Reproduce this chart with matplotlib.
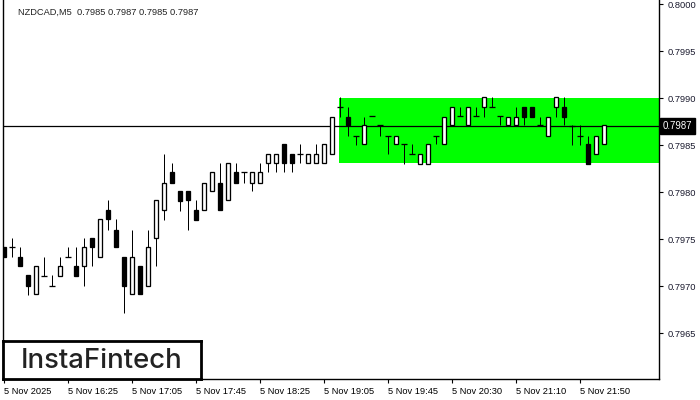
import matplotlib
matplotlib.use("Agg")
import matplotlib.pyplot as plt
from matplotlib.patches import Rectangle
import matplotlib.transforms as mtransforms

plt.rcParams["font.family"] = ["Liberation Sans", "DejaVu Sans"]

symbol_title = "NZDCAD,M5  0.7985 0.7987 0.7985 0.7987"

opens = [0.79741, 0.79741, 0.79731, 0.79712, 0.79691, 0.79711, 0.79700, 0.79711, 0.79731, 0.79721,
         0.79721, 0.79751, 0.79731, 0.79781, 0.79760, 0.79731, 0.79691, 0.79721, 0.79700, 0.79751,
         0.79781, 0.79821, 0.79801, 0.79801, 0.79781, 0.79781, 0.79801, 0.79810, 0.79791, 0.79821,
         0.79821, 0.79810, 0.79810, 0.79831, 0.79831, 0.79851, 0.79840, 0.79840, 0.79831, 0.79831,
         0.79831, 0.79840, 0.79890, 0.79880, 0.79860, 0.79851, 0.79881, 0.79871, 0.79860, 0.79851,
         0.79851, 0.79840, 0.79830, 0.79830, 0.79860, 0.79851, 0.79871, 0.79881, 0.79871, 0.79881,
         0.79890, 0.79890, 0.79881, 0.79871, 0.79871, 0.79890, 0.79890, 0.79871, 0.79860, 0.79890,
         0.79890, 0.79870, 0.79860, 0.79851, 0.79840, 0.79851]
highs = [0.79742, 0.79751, 0.79741, 0.79712, 0.79721, 0.79731, 0.79712, 0.79731, 0.79741, 0.79741,
         0.79751, 0.79751, 0.79771, 0.79791, 0.79771, 0.79731, 0.79760, 0.79721, 0.79760, 0.79791,
         0.79840, 0.79831, 0.79801, 0.79801, 0.79791, 0.79810, 0.79821, 0.79831, 0.79831, 0.79831,
         0.79821, 0.79821, 0.79831, 0.79840, 0.79840, 0.79851, 0.79840, 0.79851, 0.79840, 0.79851,
         0.79851, 0.79880, 0.79901, 0.79890, 0.79860, 0.79880, 0.79881, 0.79871, 0.79860, 0.79860,
         0.79851, 0.79851, 0.79840, 0.79851, 0.79860, 0.79880, 0.79890, 0.79890, 0.79890, 0.79890,
         0.79901, 0.79901, 0.79881, 0.79880, 0.79890, 0.79890, 0.79890, 0.79880, 0.79880, 0.79901,
         0.79901, 0.79871, 0.79871, 0.79860, 0.79860, 0.79871]
lows = [0.79731, 0.79731, 0.79721, 0.79690, 0.79691, 0.79711, 0.79700, 0.79711, 0.79731, 0.79711,
        0.79700, 0.79721, 0.79731, 0.79760, 0.79741, 0.79671, 0.79691, 0.79691, 0.79700, 0.79721,
        0.79770, 0.79810, 0.79780, 0.79760, 0.79770, 0.79781, 0.79801, 0.79781, 0.79791, 0.79810,
        0.79810, 0.79801, 0.79810, 0.79821, 0.79821, 0.79821, 0.79821, 0.79831, 0.79831, 0.79831,
        0.79831, 0.79840, 0.79880, 0.79860, 0.79850, 0.79851, 0.79881, 0.79860, 0.79840, 0.79851,
        0.79830, 0.79840, 0.79830, 0.79830, 0.79851, 0.79851, 0.79871, 0.79881, 0.79871, 0.79881,
        0.79880, 0.79890, 0.79871, 0.79871, 0.79871, 0.79871, 0.79880, 0.79871, 0.79860, 0.79880,
        0.79871, 0.79850, 0.79850, 0.79830, 0.79840, 0.79851]
closes = [0.79731, 0.79741, 0.79721, 0.79700, 0.79721, 0.79711, 0.79700, 0.79721, 0.79731, 0.79711,
          0.79741, 0.79741, 0.79771, 0.79771, 0.79741, 0.79700, 0.79731, 0.79691, 0.79741, 0.79791,
          0.79810, 0.79810, 0.79790, 0.79791, 0.79770, 0.79810, 0.79821, 0.79781, 0.79831, 0.79810,
          0.79821, 0.79821, 0.79821, 0.79840, 0.79840, 0.79831, 0.79831, 0.79840, 0.79840, 0.79840,
          0.79851, 0.79880, 0.79890, 0.79871, 0.79860, 0.79871, 0.79881, 0.79871, 0.79860, 0.79860,
          0.79851, 0.79840, 0.79840, 0.79851, 0.79860, 0.79880, 0.79890, 0.79881, 0.79890, 0.79881,
          0.79901, 0.79890, 0.79881, 0.79880, 0.79880, 0.79880, 0.79880, 0.79871, 0.79880, 0.79901,
          0.79880, 0.79870, 0.79860, 0.79830, 0.79860, 0.79871]

x_tick_labels = ["5 Nov 2025", "5 Nov 16:25", "5 Nov 17:05", "5 Nov 17:45", "5 Nov 18:25",
                 "5 Nov 19:05", "5 Nov 19:45", "5 Nov 20:30", "5 Nov 21:10", "5 Nov 21:50"]
x_tick_index = [0, 8, 16, 24, 32, 40, 48, 56, 64, 72]
y_ticks = [0.7965, 0.7970, 0.7975, 0.7980, 0.7985, 0.7990, 0.7995, 0.8000]

current_price = 0.7987
zone_start = 41.9
zone_low = 0.79831
zone_high = 0.7990

fig = plt.figure(figsize=(7, 4), dpi=100)
fig.patch.set_facecolor("white")
ax = fig.add_axes([3 / 700, 21 / 400, 656 / 700, 379 / 400])
ax.set_facecolor("white")

ax.set_xlim(-0.125, 81.875)
ax.set_ylim(0.796011, 0.800043)

# green zone
ax.add_patch(Rectangle((zone_start, zone_low), 81.875 - zone_start, zone_high - zone_low,
                       facecolor="#00ff00", edgecolor="none", zorder=1))
# current price line
ax.axhline(current_price, color="black", lw=0.9, zorder=2)

px = 0.72
bw = 0.5
for i, (o, h, l, c) in enumerate(zip(opens, highs, lows, closes)):
    ax.vlines(i, l, h, color="black", lw=px, zorder=3)
    if c > o:
        ax.add_patch(Rectangle((i - bw / 2, o), bw, c - o, facecolor="white",
                               edgecolor="black", lw=px * 1.3, zorder=4))
    elif c < o:
        ax.add_patch(Rectangle((i - bw / 2, c), bw, o - c, facecolor="black",
                               edgecolor="black", lw=px * 1.3, zorder=4))
    else:
        ax.hlines(o, i - 0.32, i + 0.32, color="black", lw=px * 1.3, zorder=4)

# spines
ax.spines["top"].set_visible(False)
for s in ["left", "right", "bottom"]:
    ax.spines[s].set_color("black")
    ax.spines[s].set_linewidth(1.0)

ax.yaxis.tick_right()
ax.set_yticks(y_ticks)
ax.set_yticklabels([f"{v:.4f}" for v in y_ticks])
ax.tick_params(axis="y", direction="out", length=3, width=0.8, pad=3,
               labelsize=6.7, colors="black", labelcolor="#1a1a2e")
ax.set_xticks(x_tick_index)
ax.set_xticklabels(x_tick_labels, ha="left")
ax.tick_params(axis="x", direction="out", length=3, width=0.8, pad=3,
               labelsize=6.7, colors="black")

# current price tag
trans = mtransforms.blended_transform_factory(ax.transAxes, ax.transData)
ax.text(1.006, current_price, "0.7987", transform=trans, ha="left", va="center",
        fontsize=6.9, color="white", zorder=10,
        bbox=dict(boxstyle="square,pad=0.3", facecolor="black", edgecolor="black"))

# title
fig.text(18 / 700, 1 - 12 / 400, symbol_title, ha="left", va="center", fontsize=6.7,
         color="#222222")

# logo box
ax_logo = fig.add_axes([3 / 700, 21 / 400, 198 / 700, 38 / 400])
ax_logo.set_xticks([])
ax_logo.set_yticks([])
ax_logo.set_facecolor("white")
for s in ax_logo.spines.values():
    s.set_linewidth(2.0)
    s.set_color("black")
ax_logo.text(0.5, 0.47, "InstaFintech", ha="center", va="center", fontsize=19.8,
             family="Inter", weight="medium", color="#222222", transform=ax_logo.transAxes)

fig.savefig("out.png", dpi=100, facecolor="white")
